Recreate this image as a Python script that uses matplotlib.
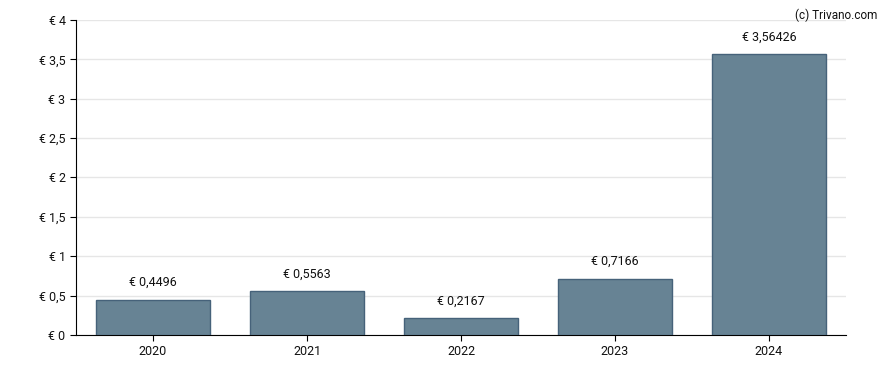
import matplotlib
matplotlib.use('Agg')
import matplotlib.pyplot as plt
from matplotlib.ticker import FuncFormatter

# data
years = ['2020', '2021', '2022', '2023', '2024']
values = [0.4496, 0.5563, 0.2167, 0.7166, 3.56426]
value_labels = ['€ 0,4496', '€ 0,5563', '€ 0,2167', '€ 0,7166', '€ 3,56426']

plt.rcParams['font.family'] = ['Roboto', 'DejaVu Sans']

fig = plt.figure(figsize=(8.88, 3.70), dpi=100)
ax = fig.add_axes([0.0856, 0.0946, 0.8671, 0.8514])

x = range(len(years))
bars = ax.bar(x, values, width=0.74, color='#678394', edgecolor='#46627a', linewidth=1, zorder=3)

# value labels above the bars
for xi, v, lab in zip(x, values, value_labels):
    ax.annotate(lab, (xi, v), xytext=(0, 7.5), textcoords='offset points',
                ha='center', va='bottom', fontsize=9, color='#111111')

ax.set_xlim(-0.5, 4.5)
ax.set_ylim(0, 4)
ax.set_xticks(list(x))
ax.set_xticklabels(years)
ax.set_yticks([0, 0.5, 1, 1.5, 2, 2.5, 3, 3.5, 4])
ax.yaxis.set_major_formatter(FuncFormatter(lambda v, p: '€ ' + ('%g' % v).replace('.', ',')))

ax.grid(axis='y', color='#e6e6e6', linewidth=1, zorder=0)
ax.set_axisbelow(True)
for s in ['top', 'right']:
    ax.spines[s].set_visible(False)
ax.spines['left'].set_color('black')
ax.spines['bottom'].set_color('black')
ax.tick_params(axis='both', labelsize=9, length=4, color='black', labelcolor='#111111')

fig.text(0.988, 0.978, '(c) Trivano.com', ha='right', va='top', fontsize=8.5, color='#111111')

fig.savefig('out.png', dpi=100)
